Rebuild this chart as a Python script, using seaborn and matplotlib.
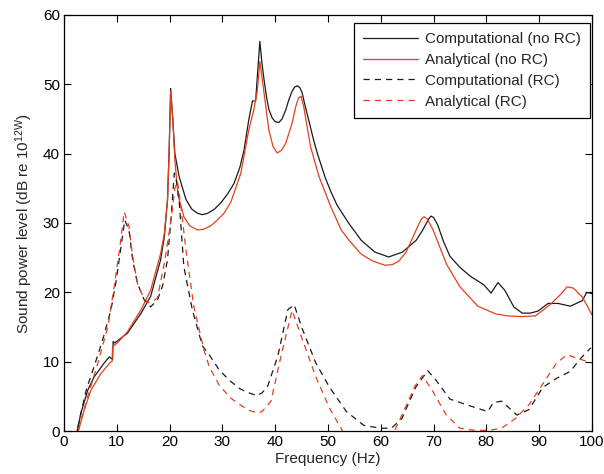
import matplotlib
matplotlib.use("Agg")
import matplotlib.pyplot as plt
import seaborn as sns

# ---------------- data ----------------
comp_norc_f = [2.5, 3.2, 4.5, 5.7, 7.6, 8.6, 9.2, 9.3, 9.6, 12.0, 14.6, 16.4, 18.3, 19.0, 19.6, 19.9,
               20.2, 20.6, 21.0, 21.8, 23.1, 24.2, 25.3, 26.2, 27.2, 28.5, 29.7, 31.0, 32.2, 33.3,
               34.1, 35.0, 35.7, 36.3, 36.7, 37.1, 37.5, 37.9, 38.4, 38.8, 39.4, 40.0, 40.7, 41.3,
               42.0, 42.6, 43.2, 43.7, 44.2, 44.7, 45.1, 45.7, 46.4, 47.2, 48.0, 49.5, 50.5, 51.7,
               53.9, 56.3, 58.9, 61.5, 64.1, 66.7, 67.8, 68.6, 69.1, 69.5, 70.0, 70.8, 71.8, 73.1,
               75.0, 77.0, 79.5, 80.9, 82.2, 83.5, 85.2, 86.8, 88.3, 89.8, 91.7, 93.6, 95.9, 98.2,
               99.0, 100.0]
comp_norc_db = [0.0, 2.6, 5.9, 7.8, 9.8, 10.7, 10.3, 12.9, 12.7, 14.1, 17.0, 19.4, 24.7, 28.0, 33.3, 40.0,
                49.4, 45.0, 40.0, 36.7, 33.4, 32.0, 31.4, 31.2, 31.4, 32.0, 32.9, 34.2, 35.7, 38.0,
                40.5, 44.9, 47.6, 47.6, 52.0, 56.2, 53.0, 50.6, 48.0, 46.4, 45.2, 44.6, 44.5, 45.0,
                46.3, 47.8, 49.0, 49.6, 49.8, 49.5, 48.8, 46.8, 44.7, 42.2, 40.0, 36.5, 34.6, 32.6,
                30.0, 27.5, 25.8, 25.1, 25.8, 27.5, 28.8, 29.9, 30.6, 31.0, 30.8, 29.7, 27.5, 25.2,
                23.6, 22.3, 21.1, 19.9, 21.4, 20.3, 17.9, 17.0, 17.0, 17.3, 18.4, 18.4, 18.0, 18.8,
                20.0, 19.8]

anal_norc_f = [2.7, 3.8, 5.1, 7.0, 8.9, 9.1, 9.2, 10.1, 12.0, 14.6, 16.4, 18.3, 19.0, 19.6, 19.9, 20.2,
               20.6, 21.0, 21.6, 22.7, 23.8, 25.3, 26.5, 27.8, 29.0, 30.3, 31.6, 33.5, 35.0, 36.0,
               36.6, 37.1, 37.5, 37.9, 38.8, 39.6, 40.4, 41.2, 42.0, 43.2, 43.9, 44.4, 44.9, 45.4,
               46.7, 48.3, 50.5, 52.5, 54.0, 56.3, 58.5, 60.8, 62.2, 63.4, 64.8, 66.0, 67.0, 67.7,
               68.2, 68.8, 69.9, 71.2, 72.5, 75.0, 78.4, 81.7, 84.0, 86.6, 89.3, 92.2, 94.2, 95.3,
               96.5, 98.2, 100.0]
anal_norc_db = [0.0, 3.0, 5.9, 8.3, 10.0, 10.0, 12.2, 12.7, 14.3, 17.5, 20.3, 25.6, 28.5, 33.3, 40.0, 49.0,
                45.0, 39.0, 34.0, 30.9, 29.6, 29.0, 29.1, 29.6, 30.4, 31.4, 33.0, 37.2, 43.4, 46.5,
                49.0, 53.3, 51.0, 48.7, 43.4, 41.0, 40.1, 40.5, 41.5, 44.4, 46.8, 48.0, 48.3, 46.8,
                41.0, 36.7, 32.4, 29.0, 27.5, 25.5, 24.5, 23.9, 24.0, 24.5, 25.8, 27.8, 29.5, 30.6,
                30.9, 30.6, 29.0, 26.5, 24.0, 20.8, 18.0, 16.9, 16.6, 16.5, 16.6, 18.3, 19.8, 20.8,
                20.6, 19.3, 16.8]

comp_rc_f = [2.6, 4.2, 5.7, 7.3, 8.9, 9.8, 10.8, 11.5, 12.3, 13.0, 13.9, 15.2, 16.4, 17.7, 18.7, 19.6,
             20.3, 20.9, 21.3, 21.8, 22.7, 24.3, 26.2, 27.5, 29.4, 31.5, 33.3, 35.0, 36.6, 37.5,
             38.5, 40.5, 42.4, 43.6, 45.1, 47.7, 50.3, 53.5, 56.8, 60.0, 62.0, 64.0, 66.6, 68.9,
             70.5, 73.1, 77.0, 80.3, 81.3, 82.9, 85.8, 88.1, 90.7, 93.3, 95.9, 97.9, 99.8]
comp_rc_db = [0.5, 5.9, 9.3, 13.1, 17.5, 21.3, 26.6, 30.4, 29.0, 24.7, 21.3, 18.9, 17.9, 18.9, 21.0, 24.7,
              31.0, 37.2, 36.0, 33.3, 23.7, 17.5, 12.3, 11.0, 8.8, 7.2, 6.1, 5.5, 5.1, 5.5,
              6.3, 10.8, 17.5, 18.2, 14.8, 9.8, 6.3, 2.8, 0.8, 0.4, 0.4, 1.8, 6.3, 8.7,
              7.3, 4.6, 3.6, 2.8, 4.1, 4.3, 2.3, 3.1, 6.3, 7.6, 8.6, 10.5, 12.0]

anal_rc_f = [2.7, 4.5, 6.4, 8.3, 9.5, 10.5, 11.4, 12.3, 13.0, 13.9, 14.9, 15.8, 16.8, 17.7, 19.0, 20.2,
             21.0, 21.5, 22.2, 23.1, 24.6, 26.5, 27.5, 29.4, 31.5, 33.3, 35.0, 36.6, 37.5, 39.2,
             41.1, 43.2, 45.1, 47.7, 50.3, 53.2, 55.5, 58.0, 60.5, 62.3, 64.6, 66.5, 67.9, 69.8,
             72.4, 75.0, 77.7, 80.3, 82.9, 85.5, 88.1, 90.7, 93.3, 95.3, 97.2, 100.0]
anal_rc_db = [0.0, 5.0, 9.8, 15.0, 20.8, 26.1, 31.6, 29.5, 25.2, 21.3, 19.5, 18.5, 18.7, 19.2, 24.2, 30.0,
              35.0, 36.0, 32.0, 26.1, 17.9, 11.7, 9.3, 6.6, 4.8, 3.8, 3.0, 2.6, 2.8, 4.3,
              10.8, 17.4, 13.3, 7.8, 3.3, -0.6, -2.5, -3.5, -2.5, -0.5, 3.3, 6.5, 8.0, 5.8,
              2.3, 0.4, 0.1, 0.1, 0.4, 1.8, 3.8, 6.8, 9.8, 11.0, 10.5, 9.8]

labels = ["Computational (no RC)", "Analytical (no RC)", "Computational (RC)", "Analytical (RC)"]
x_ticks = [0, 10, 20, 30, 40, 50, 60, 70, 80, 90, 100]
y_ticks = [0, 10, 20, 30, 40, 50, 60]

# ---------------- style ----------------
sns.set_theme(style="white")
plt.rcParams['font.family'] = ['Liberation Sans', 'DejaVu Sans']
plt.rcParams['mathtext.default'] = 'regular'
FS = 11

BLACK = "#1a1a1a"
RED = "#e2401f"

fig = plt.figure(figsize=(6.04, 4.74), dpi=100)
ax = fig.add_axes([0.106, 0.0907, 0.874, 0.8777])

lw = 0.9
dash = (0, (5, 4))
sns.lineplot(x=comp_norc_f, y=comp_norc_db, ax=ax, color=BLACK, lw=lw, sort=False,
             estimator=None, label=labels[0])
sns.lineplot(x=anal_norc_f, y=anal_norc_db, ax=ax, color=RED, lw=lw, sort=False,
             estimator=None, label=labels[1])
sns.lineplot(x=comp_rc_f, y=comp_rc_db, ax=ax, color=BLACK, lw=lw, sort=False,
             estimator=None, label=labels[2], linestyle=dash)
sns.lineplot(x=anal_rc_f, y=anal_rc_db, ax=ax, color=RED, lw=lw, sort=False,
             estimator=None, label=labels[3], linestyle=dash)

ax.set_xlim(0, 100)
ax.set_ylim(0, 60)
ax.set_xticks(x_ticks)
ax.set_yticks(y_ticks)
ax.set_xticklabels([str(t) for t in x_ticks], fontsize=FS)
ax.set_yticklabels([str(t) for t in y_ticks], fontsize=FS)
ax.tick_params(direction='in', length=5, width=0.8, top=True, right=True,
               bottom=True, left=True, colors='black', pad=3)
for s in ax.spines.values():
    s.set_color('black')
    s.set_linewidth(0.9)
ax.grid(False)

ax.set_xlabel("Frequency (Hz)", fontsize=FS, labelpad=2)
ax.set_ylabel("Sound power level (dB re 10$^{12W}$)", fontsize=FS, labelpad=6)

leg = ax.legend(loc='upper right', bbox_to_anchor=(0.996, 0.981), borderaxespad=0,
                fontsize=FS, frameon=True, fancybox=False, framealpha=1,
                edgecolor='black', handlelength=3.6, handletextpad=0.45,
                labelspacing=0.45, borderpad=0.6)
leg.get_frame().set_linewidth(0.9)

fig.savefig("out.png", dpi=100)
